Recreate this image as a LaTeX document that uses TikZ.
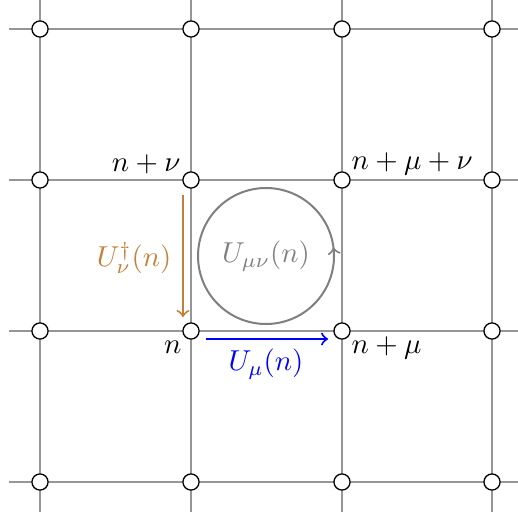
\documentclass[tikz,border=0pt]{standalone}
\usetikzlibrary{decorations.markings}
\definecolor{linkorange}{RGB}{196,128,58}
\definecolor{plaqgray}{RGB}{128,128,128}
\definecolor{gridgray}{RGB}{150,150,150}
\begin{document}
\begin{tikzpicture}[x=0.347pt,y=-0.347pt,
  site/.style={circle,draw=black,fill=white,line width=0.45pt,inner sep=0pt,minimum size=5.6pt},
  gridline/.style={draw=gridgray,line width=0.4pt},
  lbl/.style={inner sep=0pt},
  link/.style={->,line width=0.7pt}]
\useasboundingbox (0,0) rectangle (517,521);
% grid end points
\foreach \i/\x in {1/40,2/191,3/342,4/492}{
  \coordinate (vt\i) at (\x,-2);
  \coordinate (vb\i) at (\x,512);
}
\foreach \j/\y in {1/29,2/180,3/331,4/482}{
  \coordinate (hl\j) at (9,\y);
  \coordinate (hr\j) at (525,\y);
}
\foreach \i in {1,...,4}{
  \draw[gridline] (vt\i) -- (vb\i);
  \draw[gridline] (hl\i) -- (hr\i);
}
% sites
\foreach \i/\x in {1/40,2/191,3/342,4/492}{
  \foreach \j/\y in {1/29,2/180,3/331,4/482}{
    \node[site] (s\i\j) at (\x,\y) {};
  }
}
% site labels
\node[lbl,anchor=east] (lnnu) at (181,164) {$n+\nu$};
\node[lbl,anchor=west] (lnmunu) at (351,164) {$n+\mu+\nu$};
\node[lbl,anchor=east] (ln) at (182,347) {$n$};
\node[lbl,anchor=west] (lnmu) at (351,348) {$n+\mu$};
% plaquette
\node[circle,draw=plaqgray,line width=0.7pt,minimum size=136pt*0.347,inner sep=0pt,
  postaction={decorate,decoration={markings,mark=at position 0.02 with {\arrow{>}}}}] (plaq) at (266,256) {};
\node[lbl,text=plaqgray] (lplaq) at (266,256) {$U_{\mu\nu}(n)$};
% links
\coordinate (oa) at (183,195);
\coordinate (ob) at (183,317);
\draw[link,draw=linkorange] (oa) -- (ob);
\node[lbl,text=linkorange,anchor=east] (lorange) at (172,258) {$U^\dagger_\nu(n)$};
\coordinate (ba) at (206,339);
\coordinate (bb) at (328,339);
\draw[link,draw=blue] (ba) -- (bb);
\node[lbl,text=blue] (lblue) at (266,364) {$U_\mu(n)$};
\end{tikzpicture}
\end{document}
